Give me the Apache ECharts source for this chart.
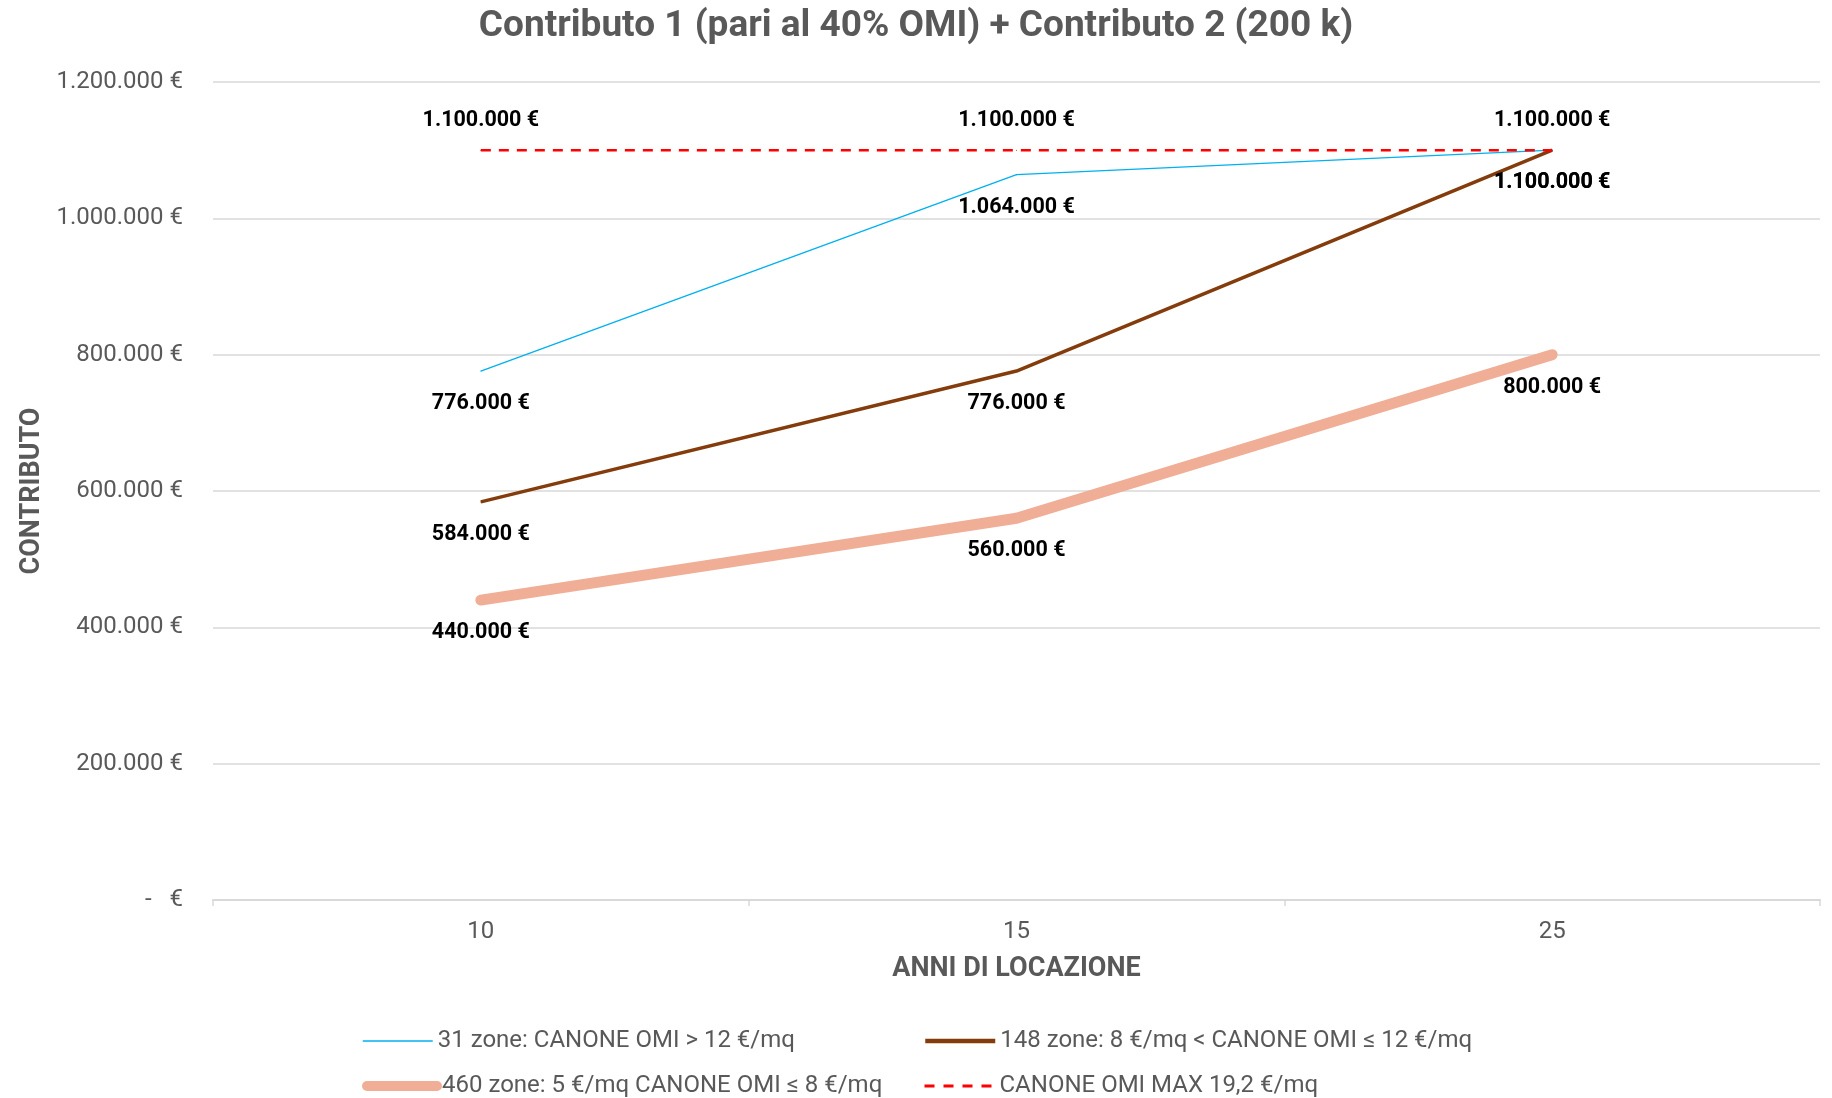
<!DOCTYPE html>
<html>
<head>
<meta charset="utf-8">
<script src="https://cdn.jsdelivr.net/npm/echarts@6/dist/echarts.min.js"></script>
<style>
html,body{margin:0;padding:0;background:#fff;}
#c{width:1832px;height:1098px;}
</style>
</head>
<body>
<div id="c"></div>
<script>
const categories = ['10', '15', '25'];
const seriesNames = [
  '31 zone: CANONE OMI > 12 €/mq',
  '148 zone: 8 €/mq < CANONE OMI ≤ 12 €/mq',
  '460 zone: 5 €/mq CANONE OMI ≤ 8 €/mq',
  'CANONE OMI MAX 19,2 €/mq'
];
const zone31 = [776000, 1064000, 1100000];
const zone148 = [584000, 776000, 1100000];
const zone460 = [440000, 560000, 800000];
const canoneMax = [1100000, 1100000, 1100000];
const titleText = 'Contributo 1 (pari al 40% OMI) + Contributo 2 (200 k)';

function fmt(v) {
  if (v === 0) return '-   €';
  return String(Math.round(v)).replace(/\B(?=(\d{3})+(?!\d))/g, '.') + ' €';
}

const chart = echarts.init(document.getElementById('c'));
const labelBase = {
  show: true,
  fontFamily: 'Roboto',
  fontWeight: 'bold',
  fontSize: 21.5,
  color: '#000',
  distance: 21,
  formatter: p => fmt(p.value)
};
const legendText = { fontFamily: 'Roboto', fontSize: 24, color: '#595959' };
function mkLegend(name, left, top, ls) {
  return {
    data: [{ name: name, itemStyle: { opacity: 0 }, lineStyle: ls }],
    left: left, top: top, padding: 0,
    itemWidth: 70, itemHeight: 12, itemGap: 0,
    textStyle: legendText, selectedMode: false
  };
}

chart.setOption({
  animation: false,
  backgroundColor: '#fff',
  title: {
    text: titleText, left: 'center', top: 3,
    textStyle: { fontFamily: 'Roboto', fontWeight: 'bold', fontSize: 37, color: '#595959' }
  },
  legend: [
    mkLegend(seriesNames[0], 362, 1029, { width: 1.5, color: '#00B0F0' }),
    mkLegend(seriesNames[1], 923, 1029, { width: 4.5, color: '#843C0C' }),
    mkLegend(seriesNames[2], 362, 1074, { width: 10, color: '#F1AE96', cap: 'round' }),
    mkLegend(seriesNames[3], 923, 1074, { width: 3, color: '#FF0000', type: [10, 9] })
  ],
  grid: { left: 213, right: 12, top: 82, bottom: 198, containLabel: false },
  xAxis: {
    type: 'category',
    data: categories,
    boundaryGap: true,
    name: 'ANNI DI LOCAZIONE',
    nameLocation: 'middle',
    nameGap: 56,
    nameTextStyle: { fontFamily: 'Roboto', fontWeight: 'bold', fontSize: 27, color: '#595959' },
    axisLine: { lineStyle: { color: '#D9D9D9', width: 2 } },
    axisTick: { show: true, length: 6, lineStyle: { color: '#D9D9D9', width: 1.5 } },
    axisLabel: { fontFamily: 'Roboto', fontSize: 24, color: '#595959', margin: 20 }
  },
  yAxis: {
    type: 'value',
    min: 0, max: 1200000, interval: 200000,
    name: 'CONTRIBUTO',
    nameLocation: 'middle',
    nameGap: 167,
    nameRotate: 90,
    nameTextStyle: { fontFamily: 'Roboto', fontWeight: 'bold', fontSize: 27, color: '#595959' },
    axisLine: { show: false },
    axisTick: { show: false },
    splitLine: { lineStyle: { color: '#D9D9D9', width: 1.5 } },
    axisLabel: { fontFamily: 'Roboto', fontSize: 24, color: '#595959', margin: 30, formatter: fmt }
  },
  series: [
    {
      name: seriesNames[2], type: 'line', data: zone460, z: 2,
      symbol: 'circle', symbolSize: 1,
      itemStyle: { color: '#F1AE96' },
      lineStyle: { color: '#F1AE96', width: 11, cap: 'round', join: 'round' },
      label: Object.assign({}, labelBase, { position: 'bottom' })
    },
    {
      name: seriesNames[1], type: 'line', data: zone148, z: 3,
      symbol: 'circle', symbolSize: 1,
      itemStyle: { color: '#843C0C' },
      lineStyle: { color: '#843C0C', width: 3.5 },
      label: Object.assign({}, labelBase, { position: 'bottom' })
    },
    {
      name: seriesNames[0], type: 'line', data: zone31, z: 4,
      symbol: 'circle', symbolSize: 1,
      itemStyle: { color: '#00B0F0' },
      lineStyle: { color: '#00B0F0', width: 1.3 },
      label: Object.assign({}, labelBase, { position: 'bottom' })
    },
    {
      name: seriesNames[3], type: 'line', data: canoneMax, z: 5,
      symbol: 'circle', symbolSize: 1,
      itemStyle: { color: '#FF0000' },
      lineStyle: { color: '#FF0000', width: 2.5, type: [10, 8] },
      label: Object.assign({}, labelBase, { position: 'top', distance: 18 })
    }
  ]
});
</script>
</body>
</html>
